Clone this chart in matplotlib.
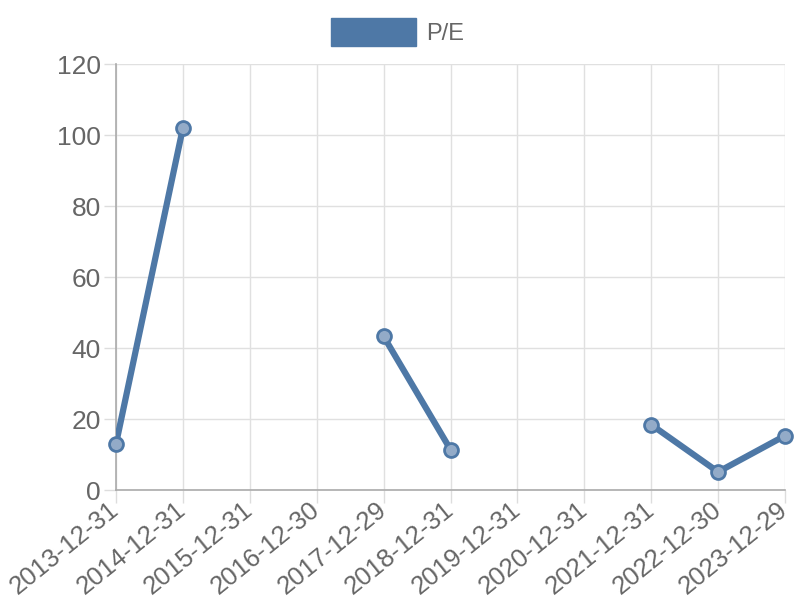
import matplotlib
matplotlib.use("Agg")
import matplotlib.pyplot as plt
from matplotlib.patches import Patch
import numpy as np

# data
dates = ["2013-12-31", "2014-12-31", "2015-12-31", "2016-12-30", "2017-12-29",
         "2018-12-31", "2019-12-31", "2020-12-31", "2021-12-31", "2022-12-30",
         "2023-12-29"]
pe = [13.0, 102.0, np.nan, np.nan, 43.3, 11.4, np.nan, np.nan, 18.4, 5.1, 15.3]

line_col = "#4e78a6"
grey = "#666666"

plt.rcParams['font.family'] = ['Liberation Sans', 'DejaVu Sans']

fig = plt.figure(figsize=(8, 6), dpi=100)
ax = fig.add_axes([0.145, 0.1833, 0.83625, 0.71])

x = np.arange(len(dates))
ax.plot(x, pe, color=line_col, lw=4.5, solid_capstyle='round', zorder=3)
ax.plot(x, pe, ls='none', marker='o', ms=10, mfc='#93abc8', mec=line_col,
        mew=2, zorder=4, clip_on=False)

ax.set_xlim(0, len(dates) - 1)
ax.set_ylim(0, 120)
ax.set_yticks(np.arange(0, 121, 20))
ax.set_xticks(x)
ax.set_xticklabels(dates, rotation=39, ha='right', va='center',
                   rotation_mode='anchor')
ax.tick_params(axis='both', colors='#dddddd', labelcolor=grey, labelsize=19,
               length=9, width=1, pad=2)
ax.tick_params(axis='x', pad=3, labelsize=18.5)
ax.grid(True, color='#e0e0e0', lw=1)
ax.set_axisbelow(True)
for s in ['top', 'right']:
    ax.spines[s].set_visible(False)
for s in ['left', 'bottom']:
    ax.spines[s].set_color('#aaaaaa')
    ax.spines[s].set_linewidth(1.2)

handle = Patch(facecolor=line_col, edgecolor=line_col)
fig.legend([handle], ["P/E"], loc='upper center', bbox_to_anchor=(0.497, 1.0),
           frameon=False, fontsize=17, labelcolor=grey, handlelength=3.6,
           handleheight=1.45, handletextpad=0.45, borderaxespad=0.35)

fig.savefig("out.png", dpi=100)
